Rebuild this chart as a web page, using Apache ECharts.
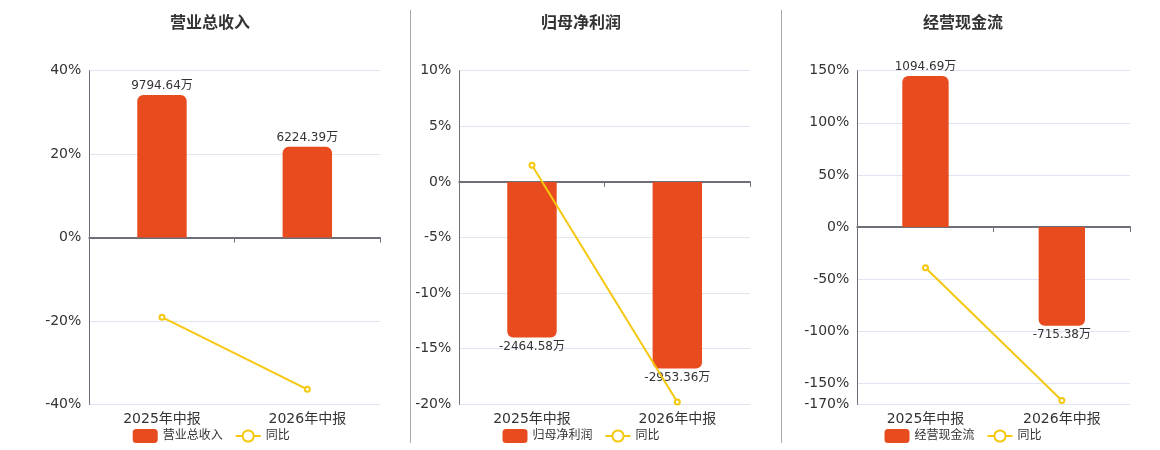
<!DOCTYPE html>
<html>
<head>
<meta charset="utf-8">
<script src="https://cdn.jsdelivr.net/npm/echarts@6/dist/echarts.min.js"></script>
<style>
  html, body { margin: 0; padding: 0; background: #fff; }
  #main { width: 1160px; height: 450px; }
</style>
</head>
<body>
<div id="main"></div>
<script>
// 报告期
var categories = ['2025年中报', '2026年中报'];

// 营业总收入（万）及同比（%）
var revenue = [9794.64, 6224.39];
var revenueYoy = [-19.1, -36.4];

// 归母净利润（万）及同比（%）
var netProfit = [-2464.58, -2953.36];
var netProfitYoy = [1.5, -19.8];

// 经营现金流（万）及同比（%）
var cashFlow = [1094.69, -715.38];
var cashFlowYoy = [-39, -166.3];

// 左轴（同比）范围
var yoyRange = [[-40, 40], [-20, 10], [-170, 150]];
// 柱子用的隐藏轴范围，零点与左轴对齐
var barRange = [[-11456, 11456], [-3520, 1760], [-1284, 1133]];

var titles = ['营业总收入', '归母净利润', '经营现金流'];

var BAR_COLOR = '#E84C1E';
var LINE_COLOR = '#F5C70F';
var FONT = '"DejaVu Sans", "Noto Sans CJK SC", sans-serif';

var panels = [
  { title: 210, left: 89.3, width: 290.7, legend: 132.7, bars: revenue, yoy: revenueYoy },
  { title: 581, left: 459.3, width: 290.7, legend: 502.5, bars: netProfit, yoy: netProfitYoy },
  { title: 963, left: 857.3, width: 272.7, legend: 884.5, bars: cashFlow, yoy: cashFlowYoy }
];

var option = {
  animation: false,
  textStyle: { fontFamily: FONT },
  title: [],
  legend: [],
  grid: [],
  xAxis: [],
  yAxis: [],
  series: [],
  graphic: [
    { type: 'line', shape: { x1: 410.5, y1: 10, x2: 410.5, y2: 443 }, style: { stroke: '#aaa', lineWidth: 1 } },
    { type: 'line', shape: { x1: 781.5, y1: 10, x2: 781.5, y2: 443 }, style: { stroke: '#aaa', lineWidth: 1 } }
  ]
};

panels.forEach(function (p, i) {
  option.title.push({
    text: titles[i],
    left: p.title,
    top: 14,
    padding: 0,
    textAlign: 'center',
    textStyle: { fontSize: 16, fontWeight: 'bold', color: '#333', fontFamily: '"Noto Sans CJK SC", sans-serif' }
  });
  option.legend.push({
    data: [titles[i], '同比'],
    left: p.legend,
    top: 429,
    padding: 0,
    itemWidth: 25,
    itemHeight: 14,
    itemGap: 12,
    textStyle: { fontSize: 12, color: '#333', fontFamily: FONT }
  });
  option.grid.push({ left: p.left, top: 70.7, width: p.width, height: 333.6 });
  option.xAxis.push({
    type: 'category',
    gridIndex: i,
    data: categories,
    axisLine: { onZero: true, onZeroAxisIndex: i * 2, lineStyle: { color: '#6E7079', width: 2 } },
    axisTick: { show: true, lineStyle: { color: '#6E7079' } },
    axisLabel: { fontSize: 14, color: '#333', margin: 8, interval: 0, fontFamily: FONT },
    position: 'bottom'
  });
  // 同比轴（可见）
  option.yAxis.push({
    type: 'value',
    gridIndex: i,
    min: yoyRange[i][0],
    max: yoyRange[i][1],
    axisLine: { show: true, lineStyle: { color: '#6E7079' } },
    axisTick: { show: false },
    axisLabel: { fontSize: 14, color: '#333', formatter: '{value}%', fontFamily: FONT },
    splitLine: { lineStyle: { color: '#E0E6F1' } }
  });
  // 金额轴（隐藏）
  option.yAxis.push({
    type: 'value',
    gridIndex: i,
    min: barRange[i][0],
    max: barRange[i][1],
    show: false,
    splitLine: { show: false }
  });
  option.series.push({
    name: titles[i],
    type: 'bar',
    xAxisIndex: i,
    yAxisIndex: i * 2 + 1,
    barWidth: '34%',
    itemStyle: { color: BAR_COLOR },
    data: p.bars.map(function (v) {
      return {
        value: v,
        itemStyle: { borderRadius: v >= 0 ? [6, 6, 0, 0] : [0, 0, 6, 6] },
        label: { position: v >= 0 ? 'top' : 'bottom' }
      };
    }),
    label: {
      show: true,
      fontSize: 12,
      color: '#333',
      distance: 3,
      fontFamily: FONT,
      formatter: function (d) { return d.value + '万'; }
    }
  });
  option.series.push({
    name: '同比',
    type: 'line',
    xAxisIndex: i,
    yAxisIndex: i * 2,
    data: p.yoy,
    symbol: 'emptyCircle',
    symbolSize: 5,
    lineStyle: { color: LINE_COLOR, width: 2 },
    itemStyle: { color: LINE_COLOR },
    z: 5
  });
});

var chart = echarts.init(document.getElementById('main'));
chart.setOption(option);
</script>
</body>
</html>
